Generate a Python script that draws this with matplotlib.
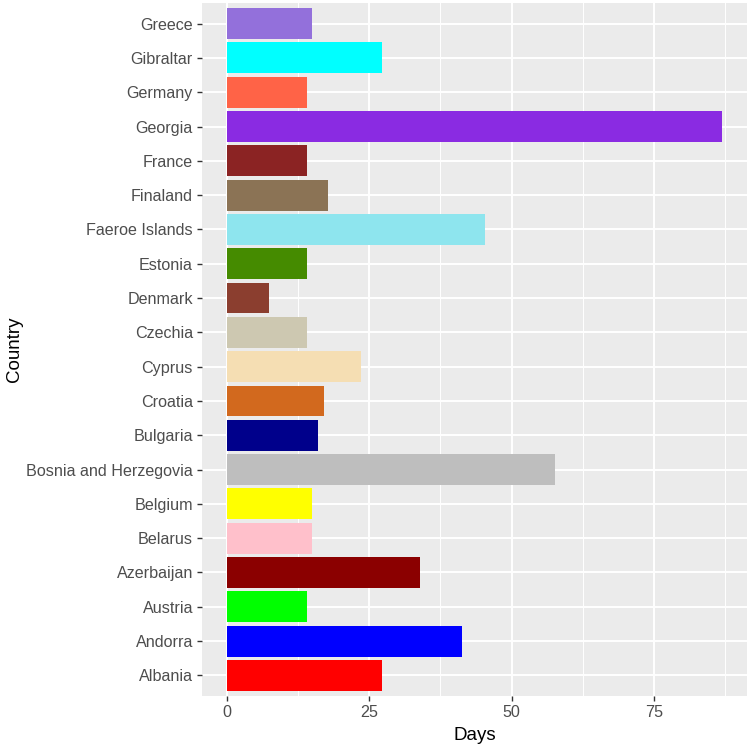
import matplotlib
matplotlib.use("Agg")
import matplotlib.pyplot as plt
from matplotlib.ticker import MultipleLocator

# datos (de abajo hacia arriba)
countries = ["Albania", "Andorra", "Austria", "Azerbaijan", "Belarus", "Belgium",
             "Bosnia and Herzegovia", "Bulgaria", "Croatia", "Cyprus", "Czechia",
             "Denmark", "Estonia", "Faeroe Islands", "Finaland", "France",
             "Georgia", "Germany", "Gibraltar", "Greece"]
days = [27.3, 41.3, 14, 34, 15, 15, 57.6, 16, 17, 23.6, 14,
        7.4, 14, 45.3, 17.8, 14, 87, 14, 27.3, 15]
colors = ["#FF0000", "#0000FF", "#00FF00", "#8B0000", "#FFC0CB", "#FFFF00",
          "#BEBEBE", "#00008B", "#D2691E", "#F5DEB3", "#CDC8B1",
          "#8B3E2F", "#458B00", "#8EE5EE", "#8B7355", "#8B2323",
          "#8A2BE2", "#FF6347", "#00FFFF", "#9370DB"]

plt.rcParams["font.family"] = ["Liberation Sans", "DejaVu Sans"]

W, H = 749, 750
fig = plt.figure(figsize=(W / 100, H / 100), dpi=100, facecolor="white")
ax = fig.add_axes([202 / W, (H - 696) / H, (747 - 202) / W, (696 - 3) / H])
ax.set_facecolor("#EBEBEB")

ypos = list(range(1, len(countries) + 1))
ax.barh(ypos, days, height=0.9, color=colors, zorder=3)

xmax = max(days)
ax.set_xlim(-0.05 * xmax, 1.05 * xmax)
ax.set_ylim(0.4, len(countries) + 0.6)
ax.set_yticks(ypos)
ax.set_yticklabels(countries)
ax.xaxis.set_major_locator(MultipleLocator(25))
ax.xaxis.set_minor_locator(MultipleLocator(12.5))

ax.grid(True, which="major", color="white", linewidth=1.4, zorder=1)
ax.grid(True, which="minor", axis="x", color="white", linewidth=0.7, zorder=1)
for s in ax.spines.values():
    s.set_visible(False)

ax.tick_params(axis="both", which="major", colors="#333333", length=3.5, width=1,
               labelcolor="#4D4D4D", labelsize=11.6, pad=3)
ax.tick_params(axis="both", which="minor", length=0)

ax.set_xlabel("Days", fontsize=13.5, labelpad=5)
ax.set_ylabel("Country", fontsize=13.5, labelpad=2)

fig.savefig("out.png", dpi=100, facecolor=fig.get_facecolor())
plt.close(fig)
